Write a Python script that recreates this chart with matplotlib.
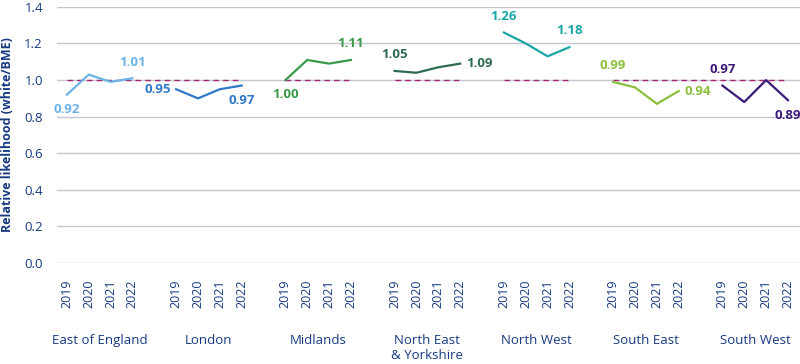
import numpy as np
import matplotlib.pyplot as plt

plt.rcParams['font.family'] = ['Open Sans', 'DejaVu Sans']

regions = ['East of England', 'London', 'Midlands', 'North East\n& Yorkshire',
           'North West', 'South East', 'South West']
years = ['2019', '2020', '2021', '2022']

east_england = [0.92, 1.03, 0.99, 1.01]
london = [0.95, 0.90, 0.95, 0.97]
midlands = [1.00, 1.11, 1.09, 1.11]
north_east = [1.05, 1.04, 1.07, 1.09]
north_west = [1.26, 1.20, 1.13, 1.18]
south_east = [0.99, 0.96, 0.87, 0.94]
south_west = [0.97, 0.88, 1.00, 0.89]
series = [east_england, london, midlands, north_east, north_west, south_east, south_west]

# parity line at 1.0, one value per slot (year slots + the gap slot after each region)
parity = [1.0, 1.0, 1.0, 1.0, 1.0,
          1.0, 1.0, 1.0, 1.0, np.nan,
          1.0, 1.0, 1.0, 1.0, np.nan,
          1.0, 1.0, 1.0, 1.0, np.nan,
          1.0, 1.0, 1.0, 1.0, np.nan,
          1.0, 1.0, 1.0, 1.0, 1.0,
          1.0, 1.0, 1.0, 1.0]

colors = ['#6db3e6', '#2f78c9', '#3a9a4a', '#2f6b4f', '#1aa7a8', '#8bbf3c', '#3b1a78']
# where to put the first / last value label
label_pos = [('below', 'above'), ('left', 'below'), ('below', 'above'), ('above', 'right'),
             ('above', 'above'), ('above', 'right'), ('above', 'below')]

navy = '#163a82'
slot = 5  # 4 years + 1 empty slot per region

fig = plt.figure(figsize=(8, 3.64), dpi=100)
ax = fig.add_axes([0.071, 0.2775, 0.929, 0.7035])

ax.set_ylim(0, 1.4)
ax.set_yticks(np.arange(0, 1.41, 0.2))
ax.set_yticklabels([f'{v:.1f}' for v in np.arange(0, 1.41, 0.2)])
ax.set_xlim(-0.46, 33.55)
ax.grid(axis='y', color='#c4c6d0', lw=1)
ax.set_axisbelow(True)
for s in ax.spines.values():
    s.set_visible(False)
ax.tick_params(axis='y', length=0, labelsize=9.5, labelcolor=navy, pad=10)

ax.plot(np.arange(len(parity)), parity, color='#a3246f', lw=1, ls=(0, (4, 3)), zorder=2)

offsets = {'above': (0, 7, 'center', 'bottom'), 'below': (0, -6, 'center', 'top'),
           'left': (-4, 0, 'right', 'center'), 'right': (4, 0, 'left', 'center')}

xt = []
xl = []
for i, vals in enumerate(series):
    x = np.arange(4) + i * slot
    ax.plot(x, vals, color=colors[i], lw=1.6, zorder=3)
    for k, idx in enumerate([0, 3]):
        dx, dy, ha, va = offsets[label_pos[i][k]]
        ax.annotate(f'{vals[idx]:.2f}', (x[idx], vals[idx]), xytext=(dx, dy),
                    textcoords='offset points', ha=ha, va=va, color=colors[i],
                    fontsize=9.5, fontweight='bold')
    xt.extend(x)
    xl.extend(years)
    ax.text(i * slot + 1.5, -0.39, regions[i], ha='center', va='top',
            fontsize=9.5, color=navy, linespacing=1.15,
            transform=ax.transData, clip_on=False)

ax.set_xticks(xt)
ax.set_xticklabels(xl, rotation=90, fontsize=9, color=navy)
ax.tick_params(axis='x', length=0, pad=12)

ax.set_ylabel('Relative likelihood (white/BME)', fontsize=9, fontweight='bold',
              color=navy)
ax.yaxis.set_label_coords(-0.0575, 0.5)

fig.savefig('out.png', dpi=100)
